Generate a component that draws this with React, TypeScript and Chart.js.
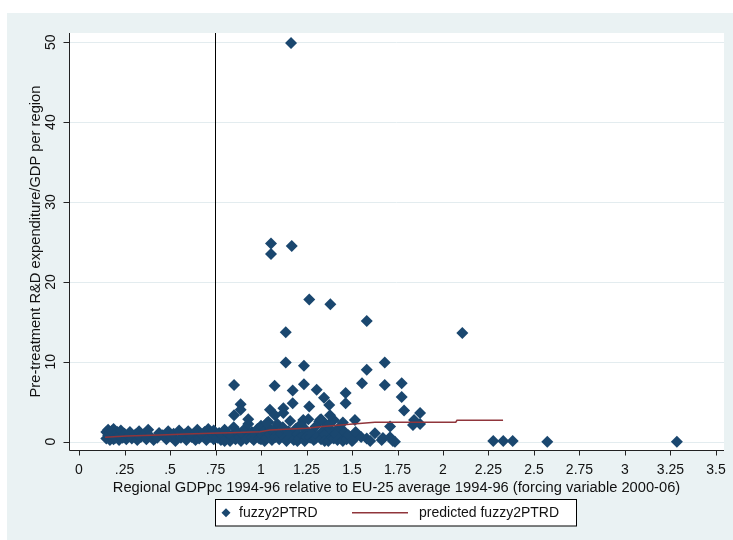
import React, { useEffect, useRef } from 'react';
import { Chart, registerables } from 'chart.js';
Chart.register(...registerables);

// ---- data (x = GDPpc relative to EU-25, y = R&D expenditure / GDP) ----
const leftCluster: [number, number][] = [
  [0.15,0.4],[0.15,1.2],[0.16,0.8],[0.16,1.5],[0.17,0.2],[0.17,1.0],[0.18,0.6],[0.18,1.3],[0.19,0.3],[0.19,1.6],
  [0.2,0.9],[0.2,0.5],[0.21,1.2],[0.22,0.2],[0.22,0.8],[0.23,1.4],[0.24,0.5],[0.25,1.0],[0.26,0.3],[0.27,0.7],
  [0.28,1.2],[0.29,0.4],[0.31,0.9],[0.32,0.2],[0.33,1.3],[0.34,0.6],[0.36,1.0],[0.37,0.3],[0.38,1.5],[0.39,0.7],
  [0.41,0.2],[0.43,0.5],[0.44,1.1],[0.46,0.8],[0.48,0.3],[0.49,1.3],[0.51,0.6],[0.52,1.0],[0.53,0.1],[0.55,1.4],
  [0.56,0.5],[0.58,0.9],[0.59,0.2],[0.6,1.3],[0.62,0.6],[0.63,1.0],[0.64,0.2],[0.65,1.5],[0.66,0.4],[0.68,0.8],
  [0.69,1.2],[0.7,0.2],[0.71,1.6],[0.72,0.6],[0.73,1.0],[0.74,0.3],[0.74,1.4],
];
const denseBand: [number, number][] = [
  [0.76,0.5],[0.77,1.1],[0.78,0.2],[0.79,0.8],[0.8,1.5],[0.8,0.1],[0.81,0.4],[0.82,1.0],[0.83,0.1],[0.84,0.7],
  [0.85,1.8],[0.86,0.3],[0.87,1.2],[0.88,0.6],[0.89,0.1],[0.9,0.9],[0.91,1.6],[0.92,0.3],[0.93,2.2],[0.94,0.7],
  [0.95,1.2],[0.95,0.5],[0.96,0.2],[0.97,0.9],[0.98,1.6],[0.99,0.4],[1.0,2.0],[1.0,0.3],[1.01,0.8],[1.02,0.1],
  [1.02,1.3],[1.03,0.5],[1.04,2.5],[1.05,0.9],[1.05,1.6],[1.06,0.2],[1.07,1.5],[1.08,0.6],[1.09,2.2],[1.1,0.3],
  [1.1,0.8],[1.11,1.0],[1.12,1.8],[1.13,0.5],[1.14,0.1],[1.15,1.3],[1.16,2.6],[1.17,0.7],[1.18,0.2],[1.19,1.6],
  [1.2,1.0],[1.2,0.1],[1.21,0.4],[1.22,2.2],[1.23,0.8],[1.24,0.1],[1.25,1.4],[1.25,0.6],[1.26,2.8],[1.27,0.5],
  [1.28,1.1],[1.29,0.2],[1.3,1.9],[1.3,0.4],[1.31,0.7],[1.32,2.5],[1.33,0.3],[1.34,1.3],[1.35,0.9],[1.35,0.1],
  [1.36,2.1],[1.37,0.1],[1.38,1.6],[1.39,0.5],[1.4,2.7],[1.4,0.4],[1.41,1.0],[1.42,0.2],[1.43,1.8],[1.44,0.6],
  [1.45,2.4],[1.45,0.1],[1.46,1.2],[1.47,0.3],[1.48,0.8],[1.5,0.1],
];
const scatterAbove: [number, number][] = [
  [0.852,7.1],[0.888,4.7],[0.888,4.0],[0.852,3.3],[0.93,2.8],[1.075,7.0],[1.174,6.4],[1.236,7.2],[1.306,6.5],
  [1.346,5.5],[1.375,4.6],[1.465,6.1],[1.465,4.8],[1.174,4.8],[1.265,4.4],[1.049,4.0],[1.077,3.3],[1.123,4.2],
  [1.123,3.6],[1.031,2.3],[1.232,2.7],[1.224,1.9],[1.324,2.7],[1.379,2.3],[1.516,2.7],[1.379,3.3],[1.33,2.8],
  [1.136,9.9],[1.236,9.5],[1.68,9.9],[1.581,9.0],[1.555,7.3],[1.68,7.1],[1.773,7.3],[1.773,5.6],[1.786,3.9],
  [1.874,3.6],[1.841,2.7],[1.874,2.2],[1.835,2.1],[1.709,1.9],[1.709,0.55],[1.736,0.0],[1.663,0.2],[1.626,1.05],
  [1.581,0.4],[1.505,0.2],[1.67,0.45],[1.725,0.1],[1.52,1.2],[1.55,0.6],[1.6,0.1],
];
const outliers: [number, number][] = [
  [1.165,49.9],[1.055,24.8],[1.055,23.5],[1.169,24.5],[1.265,17.8],[1.381,17.2],[1.136,13.7],[1.581,15.1],
  [2.106,13.6],[2.276,0.1],[2.331,0.1],[2.383,0.1],[2.573,0.0],[3.285,0.0],
];
const predictedX = [0.143,0.262,0.445,0.592,0.72,0.83,0.995,1.05,1.251,1.324,1.505,1.626,1.654,2.07,2.077,2.33];
const predictedY = [0.55,0.71,0.84,0.96,1.05,1.13,1.25,1.46,1.68,1.88,2.2,2.43,2.43,2.43,2.68,2.68];
const thresholdX = 0.75;

const xTicks = [0,0.25,0.5,0.75,1,1.25,1.5,1.75,2,2.25,2.5,2.75,3,3.25,3.5];
const xTickLabels = ['0','.25','.5','.75','1','1.25','1.5','1.75','2','2.25','2.5','2.75','3','3.25','3.5'];
const yTicks = [0,10,20,30,40,50];
const yTickLabels = ['0','10','20','30','40','50'];

const xTitle = 'Regional GDPpc 1994-96 relative to EU-25 average 1994-96 (forcing variable 2000-06)';
const yTitle = 'Pre-treatment R&D expenditure/GDP per region';
const legendLabels = ['fuzzy2PTRD', 'predicted fuzzy2PTRD'];

const X_MIN = -0.055, X_MAX = 3.544, Y_MIN = -1.04, Y_MAX = 51.15;
const NAVY = '#1a476f';
const MAROON = '#90353b';
const FONT = '"Liberation Sans", Arial, sans-serif';

const decorPlugin = {
  id: 'stataDecor',
  beforeDraw(chart: any) {
    const { ctx, width, height, chartArea: a } = chart;
    ctx.save();
    ctx.fillStyle = '#ffffff';
    ctx.fillRect(0, 0, width, height);
    ctx.fillStyle = '#eaf2f3';
    ctx.fillRect(7, 13, width - 7, height - 13);
    ctx.fillStyle = '#ffffff';
    ctx.fillRect(a.left, a.top, a.right - a.left, a.bottom - a.top);
    ctx.restore();
  },
  beforeDatasetsDraw(chart: any) {
    const { ctx, chartArea: a, scales } = chart;
    const y = scales.y;
    ctx.save();
    ctx.strokeStyle = '#e3ecef';
    ctx.lineWidth = 1;
    yTicks.forEach((v) => {
      const py = Math.round(y.getPixelForValue(v)) + 0.5;
      ctx.beginPath();
      ctx.moveTo(a.left, py);
      ctx.lineTo(a.right, py);
      ctx.stroke();
    });
    ctx.restore();
  },
  afterDraw(chart: any) {
    const { ctx, chartArea: a, scales } = chart;
    const xs = scales.x, ys = scales.y;
    ctx.save();
    // axes
    ctx.strokeStyle = '#222';
    ctx.lineWidth = 1;
    const lx = a.left + 0.5;
    const by = a.bottom + 0.5;
    ctx.beginPath();
    ctx.moveTo(lx, a.top);
    ctx.lineTo(lx, by);
    ctx.lineTo(a.right, by);
    ctx.stroke();
    // ticks
    ctx.beginPath();
    xTicks.forEach((v) => {
      const px = Math.round(xs.getPixelForValue(v)) + 0.5;
      ctx.moveTo(px, by);
      ctx.lineTo(px, by + 5);
    });
    yTicks.forEach((v) => {
      const py = Math.round(ys.getPixelForValue(v)) + 0.5;
      ctx.moveTo(lx, py);
      ctx.lineTo(lx - 6, py);
    });
    ctx.stroke();
    // tick labels
    ctx.fillStyle = '#111';
    ctx.font = `14px ${FONT}`;
    ctx.textAlign = 'center';
    ctx.textBaseline = 'middle';
    xTicks.forEach((v, i) => {
      ctx.fillText(xTickLabels[i], xs.getPixelForValue(v), a.bottom + 20);
    });
    yTicks.forEach((v, i) => {
      ctx.save();
      ctx.translate(a.left - 18, ys.getPixelForValue(v));
      ctx.rotate(-Math.PI / 2);
      ctx.fillText(yTickLabels[i], 0, 0);
      ctx.restore();
    });
    // titles
    ctx.font = `14.7px ${FONT}`;
    ctx.fillText(xTitle, (a.left + a.right) / 2, a.bottom + 37.5);
    ctx.save();
    ctx.translate(36, (a.top + a.bottom) / 2);
    ctx.rotate(-Math.PI / 2);
    ctx.fillText(yTitle, 0, 0);
    ctx.restore();
    // legend
    const L = 215.5, T = 499.5, W = 361, H = 26.5;
    ctx.fillStyle = '#fff';
    ctx.fillRect(L, T, W, H);
    ctx.strokeStyle = '#000';
    ctx.strokeRect(L, T, W, H);
    const cy = T + H / 2;
    ctx.fillStyle = NAVY;
    ctx.beginPath();
    ctx.moveTo(226 - 4.5, cy);
    ctx.lineTo(226, cy - 4.5);
    ctx.lineTo(226 + 4.5, cy);
    ctx.lineTo(226, cy + 4.5);
    ctx.closePath();
    ctx.fill();
    ctx.strokeStyle = MAROON;
    ctx.lineWidth = 1.5;
    ctx.beginPath();
    ctx.moveTo(352, cy);
    ctx.lineTo(408, cy);
    ctx.stroke();
    ctx.fillStyle = '#111';
    ctx.font = `14px ${FONT}`;
    ctx.textAlign = 'left';
    ctx.fillText(legendLabels[0], 239, cy);
    ctx.fillText(legendLabels[1], 419, cy);
    ctx.restore();
  },
};

export default function App() {
  const ref = useRef<HTMLCanvasElement>(null);
  useEffect(() => {
    if (!ref.current) return;
    const pts = [...leftCluster, ...denseBand, ...scatterAbove, ...outliers].map(([x, y]) => ({ x, y }));
    const pred = predictedX.map((x, i) => ({ x, y: predictedY[i] }));
    const chart = new Chart(ref.current, {
      type: 'scatter',
      data: {
        datasets: [
          {
            label: 'xline',
            data: [{ x: thresholdX, y: Y_MIN }, { x: thresholdX, y: Y_MAX }],
            showLine: true,
            borderColor: '#000',
            borderWidth: 1,
            pointRadius: 0,
            order: 3,
          },
          {
            label: legendLabels[0],
            data: pts,
            pointStyle: 'rectRot',
            pointRadius: 6,
            backgroundColor: NAVY,
            borderColor: NAVY,
            borderWidth: 0,
            order: 2,
          },
          {
            label: legendLabels[1],
            data: pred,
            showLine: true,
            borderColor: MAROON,
            borderWidth: 1.5,
            pointRadius: 0,
            order: 1,
          },
        ],
      } as any,
      options: {
        responsive: false,
        devicePixelRatio: 1,
        animation: false,
        layout: { padding: { left: 69, top: 33, right: 9, bottom: 90 } },
        plugins: { legend: { display: false }, tooltip: { enabled: false } },
        scales: {
          x: { type: 'linear', min: X_MIN, max: X_MAX, display: false },
          y: { type: 'linear', min: Y_MIN, max: Y_MAX, display: false },
        },
      } as any,
      plugins: [decorPlugin],
    });
    return () => chart.destroy();
  }, []);
  return (
    <canvas
      ref={ref}
      width={733}
      height={540}
      style={{ position: 'absolute', left: 0, top: 0, width: 733, height: 540, display: 'block' }}
    />
  );
}
